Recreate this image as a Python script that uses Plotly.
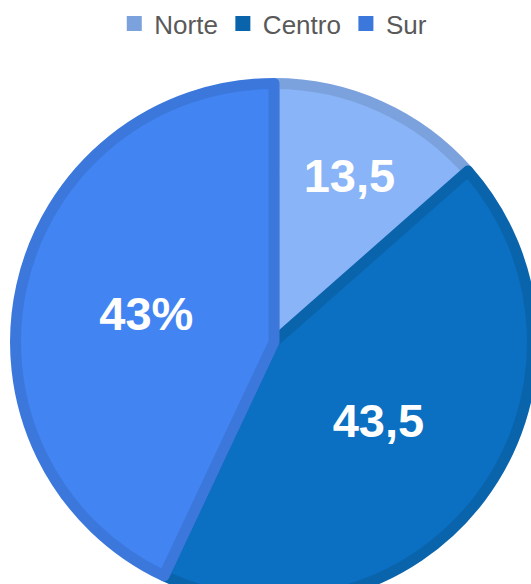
import plotly.graph_objects as go

labels = ["Norte", "Centro", "Sur"]
values = [13.5, 43.5, 43]
slice_text = ["13,5", "43,5", "43%"]
fill_colors = ["#8AB4F8", "#0B70C2", "#4284F2"]
border_colors = ["#7CA2DE", "#0A64AC", "#3C78DC"]

W, H = 560, 620

fig = go.Figure()
fig.add_trace(go.Pie(
    labels=labels,
    values=values,
    text=slice_text,
    textinfo="text",
    textposition="inside",
    insidetextorientation="horizontal",
    textfont=dict(family="Liberation Sans, Arial", size=47, color="white", weight="bold"),
    marker=dict(colors=fill_colors, line=dict(color=border_colors, width=11)),
    sort=False,
    direction="clockwise",
    rotation=0,
    showlegend=False,
    domain=dict(x=[0.0277, 0.9509], y=[0.0315, 0.8653]),
))

# legend entries (solid squares)
for name, col in zip(labels, border_colors):
    fig.add_trace(go.Scatter(
        x=[None], y=[None], mode="markers", name=name,
        marker=dict(symbol="square", size=15, color=col, line=dict(width=0)),
        showlegend=True,
    ))

fig.update_layout(
    width=W, height=H,
    margin=dict(l=0, r=0, t=0, b=0, autoexpand=False),
    paper_bgcolor="white",
    plot_bgcolor="white",
    xaxis=dict(visible=False),
    yaxis=dict(visible=False),
    showlegend=True,
    legend=dict(orientation="h", x=0.488, xanchor="center", y=1.0, yanchor="top",
                font=dict(family="Liberation Sans, Arial", size=26, color="#595959"),
                itemwidth=30, traceorder="normal", bgcolor="rgba(0,0,0,0)"),
    separators=",.",
)

fig.write_html(
    "out.html",
    config={"displayModeBar": False},
    post_script="document.documentElement.style.overflow='hidden';"
                "document.body.style.overflow='hidden';"
                "document.body.style.margin='0';",
)
